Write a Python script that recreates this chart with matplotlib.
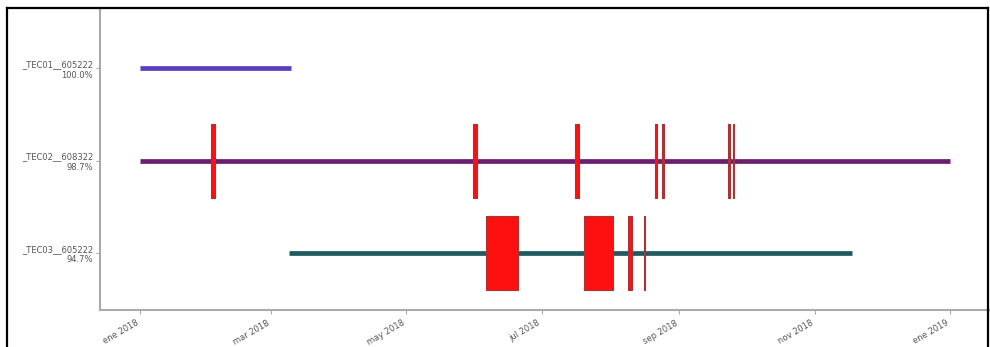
import datetime as dt
import matplotlib; matplotlib.use("Agg")
import matplotlib.pyplot as plt
import matplotlib.dates as mdates
from matplotlib.lines import Line2D
from matplotlib.ticker import FuncFormatter

# one row per sensor, top to bottom
names = ["_TEC01__605222", "_TEC02__608322", "_TEC03__605222"]
pcts = ["100.0%", "98.7%", "94.7%"]
starts = [dt.date(2018, 1, 1), dt.date(2018, 1, 1), dt.date(2018, 3, 9)]
ends = [dt.date(2018, 3, 10), dt.date(2019, 1, 1), dt.date(2018, 11, 18)]
line_colors = ["#5a3cbe", "#6a1e6e", "#1f5a60"]

# gaps per row: (start date, length in days)
gaps = [
    [],
    [(dt.date(2018, 2, 2), 2), (dt.date(2018, 5, 31), 1.8), (dt.date(2018, 7, 16), 1.8),
     (dt.date(2018, 8, 21), 0.8), (dt.date(2018, 8, 24), 1.0),
     (dt.date(2018, 9, 23), 0.8), (dt.date(2018, 9, 25), 0.8)],
    [(dt.date(2018, 6, 6), 14.5), (dt.date(2018, 7, 20), 13),
     (dt.date(2018, 8, 9), 1.6), (dt.date(2018, 8, 16), 0.6)],
]

mes = ["ene", "feb", "mar", "abr", "may", "jun", "jul", "ago", "sep", "oct", "nov", "dic"]

W, H = 990, 347
fig = plt.figure(figsize=(W / 100, H / 100), dpi=100)
ax = fig.add_axes([100 / W, 1 - 310 / H, 890 / W, (310 - 8) / H])

n = len(names)
ys = [n - 1 - i for i in range(n)]
for i in range(n):
    y = ys[i]
    ax.plot([starts[i], ends[i]], [y, y], color=line_colors[i], lw=3.4, solid_capstyle="butt", zorder=2)
    bars = [(mdates.date2num(s), d) for s, d in gaps[i]]
    if bars:
        ax.broken_barh(bars, (y - 0.4, 0.8), facecolor="#ff1010", edgecolor="#a83434",
                       lw=0.8, zorder=3)

ax.set_xlim(mdates.date2num(dt.date(2017, 12, 14)), mdates.date2num(dt.date(2019, 1, 19)))
ax.set_ylim(-0.616, 2.65)
ax.set_yticks(ys)
ax.set_yticklabels([f"{a}\n{b}" for a, b in zip(names, pcts)], fontsize=6, color="#555555",
                   ha="right", multialignment="right")
ax.xaxis.set_major_locator(mdates.MonthLocator(bymonth=[1, 3, 5, 7, 9, 11]))
ax.xaxis.set_major_formatter(FuncFormatter(
    lambda x, p: f"{mes[mdates.num2date(x).month - 1]} {mdates.num2date(x).year}"))
for lab in ax.get_xticklabels():
    lab.set_rotation(30); lab.set_ha("right"); lab.set_fontsize(6)
ax.tick_params(colors="#999999", length=3, width=0.6, pad=3)
ax.tick_params(axis="x", labelcolor="#555555")
ax.tick_params(axis="y", labelcolor="#555555", pad=2)
for s in ["top", "right"]:
    ax.spines[s].set_visible(False)
for s in ["left", "bottom"]:
    ax.spines[s].set_color("#aaaaaa"); ax.spines[s].set_linewidth(1.5)

# black frame of the screenshot
fx0, fx1, fy1 = 7 / W, 988 / W, 1 - 7.5 / H
for xs, yy in [([fx0, fx0], [0, fy1]), ([fx0, fx1], [fy1, fy1]), ([fx1, fx1], [0, fy1])]:
    fig.add_artist(Line2D(xs, yy, color="black", lw=1.6, transform=fig.transFigure))

fig.savefig("out.png", dpi=100)
